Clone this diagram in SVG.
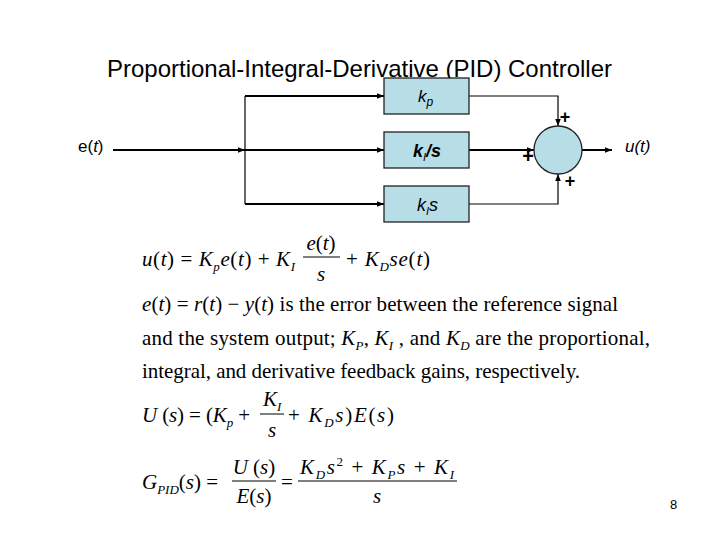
<svg xmlns="http://www.w3.org/2000/svg" width="720" height="540" viewBox="0 0 720 540">
<style>
.sans{font-family:"Liberation Sans",Arial,sans-serif;fill:#000}
.serif{font-family:"Liberation Serif","Times New Roman",serif;fill:#000;font-size:21px}
.box{fill:#B7DDE6;stroke:#222;stroke-width:1.3}
.thick{fill:none;stroke:#000;stroke-width:2}
.thin{fill:none;stroke:#000;stroke-width:1.2}
.i{font-style:italic}
.sub{font-size:13px;font-style:italic}
.bar{stroke:#000;stroke-width:1}
</style>
<defs>
<marker id="ah" viewBox="0 0 10 10" refX="10" refY="5" markerWidth="7" markerHeight="7" markerUnits="userSpaceOnUse" orient="auto">
<path d="M0,1 L10,5 L0,9 Z" fill="#000"/>
</marker>
</defs>
<rect width="720" height="540" fill="#fff"/>
<text class="sans" x="107" y="77" font-size="24" textLength="505">Proportional-Integral-Derivative (PID) Controller</text>

<g id="connectors">
<path class="thick" d="M113,150 H245" marker-end="url(#ah)"/>
<path class="thin" d="M245,96 V204"/>
<path class="thick" d="M245,96 H384" marker-end="url(#ah)"/>
<path class="thick" d="M245,150 H384" marker-end="url(#ah)"/>
<path class="thick" d="M245,204 H384" marker-end="url(#ah)"/>
<path class="thin" d="M469,96 H558 V126" marker-end="url(#ah)"/>
<path class="thick" d="M469,150 H534" marker-end="url(#ah)"/>
<path class="thin" d="M469,204 H558 V174" marker-end="url(#ah)"/>
<path class="thick" d="M582,150 H612" marker-end="url(#ah)"/>
</g>

<g id="input-label"><text class="sans" x="78" y="152" font-size="17">e(<tspan class="i">t</tspan>)</text></g>
<g id="output-label"><text class="sans i" x="625" y="152" font-size="17">u(t)</text></g>

<g id="box-kp">
<rect class="box" x="384" y="78" width="85" height="36"/>
<text class="sans i" x="418" y="102" font-size="17">k<tspan font-size="12" dy="4">p</tspan></text>
</g>
<g id="box-ki">
<rect class="box" x="384" y="132" width="85" height="36"/>
<text class="sans i" x="413" y="157" font-size="18" font-weight="bold">k<tspan font-size="11" dy="4" font-weight="normal">I</tspan><tspan dy="-4">/s</tspan></text>
</g>
<g id="box-kd">
<rect class="box" x="384" y="186" width="85" height="36"/>
<text class="sans i" x="417" y="211" font-size="18">k<tspan font-size="11" dy="4">I</tspan><tspan dy="-4">s</tspan></text>
</g>
<g id="sum">
<circle class="box" cx="558" cy="150" r="24"/>
<text class="sans" x="565" y="123" font-size="18" font-weight="bold" text-anchor="middle">+</text>
<text class="sans" x="528" y="163" font-size="20" font-weight="bold" text-anchor="middle">+</text>
<text class="sans" x="570" y="187" font-size="18" font-weight="bold" text-anchor="middle">+</text>
</g>

<!-- equation 1 -->
<text class="serif" x="142" y="266" textLength="153" lengthAdjust="spacing"><tspan class="i">u</tspan>(<tspan class="i">t</tspan>) = <tspan class="i">K</tspan><tspan class="sub" dy="5">p</tspan><tspan class="i" dy="-5">e</tspan>(<tspan class="i">t</tspan>) + <tspan class="i">K</tspan><tspan class="sub" dy="5">I</tspan></text>
<text class="serif" x="321" y="250" text-anchor="middle"><tspan class="i">e</tspan>(<tspan class="i">t</tspan>)</text>
<line class="bar" x1="303" y1="257" x2="340" y2="257"/>
<text class="serif i" x="321" y="281" text-anchor="middle">s</text>
<text class="serif" x="346" y="266" textLength="84" lengthAdjust="spacing">+ <tspan class="i">K</tspan><tspan class="sub" dy="5">D</tspan><tspan class="i" dy="-5">se</tspan>(<tspan class="i">t</tspan>)</text>

<!-- paragraph -->
<text class="serif" x="142" y="311" textLength="476" lengthAdjust="spacing"><tspan class="i">e</tspan>(<tspan class="i">t</tspan>) = <tspan class="i">r</tspan>(<tspan class="i">t</tspan>) − <tspan class="i">y</tspan>(<tspan class="i">t</tspan>) is the error between the reference signal</text>
<text class="serif" x="142" y="345" textLength="508" lengthAdjust="spacing">and the system output; <tspan class="i">K</tspan><tspan class="sub" dy="5">P</tspan><tspan dy="-5">, </tspan><tspan class="i">K</tspan><tspan class="sub" dy="5">I</tspan><tspan dy="-5"> , and </tspan><tspan class="i">K</tspan><tspan class="sub" dy="5">D</tspan><tspan dy="-5"> are the proportional,</tspan></text>
<text class="serif" x="142" y="378" textLength="438" lengthAdjust="spacing">integral, and derivative feedback gains, respectively.</text>

<!-- equation U(s) -->
<text class="serif" x="142" y="422" textLength="108" lengthAdjust="spacing"><tspan class="i">U</tspan> (<tspan class="i">s</tspan>) = (<tspan class="i">K</tspan><tspan class="sub" dy="5">p</tspan><tspan dy="-5"> +</tspan></text>
<text class="serif" x="263" y="406"><tspan class="i">K</tspan><tspan class="sub" dy="5">I</tspan></text>
<line class="bar" x1="260" y1="414" x2="284" y2="414"/>
<text class="serif i" x="272" y="437" text-anchor="middle">s</text>
<text class="serif" x="288" y="422" textLength="106" lengthAdjust="spacing">+ <tspan class="i">K</tspan><tspan class="sub" dy="5">D</tspan><tspan class="i" dy="-5">s</tspan>)<tspan class="i">E</tspan>(<tspan class="i">s</tspan>)</text>

<!-- equation G_PID -->
<text class="serif" x="142" y="489"><tspan class="i">G</tspan><tspan class="sub" dy="5">PID</tspan><tspan dy="-5">(</tspan><tspan class="i">s</tspan>) =</text>
<text class="serif" x="254" y="474" text-anchor="middle"><tspan class="i">U</tspan> (<tspan class="i">s</tspan>)</text>
<line class="bar" x1="232" y1="481" x2="276" y2="481"/>
<text class="serif" x="254" y="503" text-anchor="middle"><tspan class="i">E</tspan>(<tspan class="i">s</tspan>)</text>
<text class="serif" x="281" y="489">=</text>
<text class="serif" x="300" y="474" textLength="154" lengthAdjust="spacing"><tspan class="i">K</tspan><tspan class="sub" dy="5">D</tspan><tspan class="i" dy="-5">s</tspan><tspan font-size="13" dy="-8">2</tspan><tspan dy="8"> + </tspan><tspan class="i">K</tspan><tspan class="sub" dy="5">P</tspan><tspan class="i" dy="-5">s</tspan> + <tspan class="i">K</tspan><tspan class="sub" dy="5">I</tspan></text>
<line class="bar" x1="298" y1="481" x2="457" y2="481"/>
<text class="serif i" x="377" y="503" text-anchor="middle">s</text>

<text class="sans" x="670" y="509" font-size="13">8</text>
</svg>
